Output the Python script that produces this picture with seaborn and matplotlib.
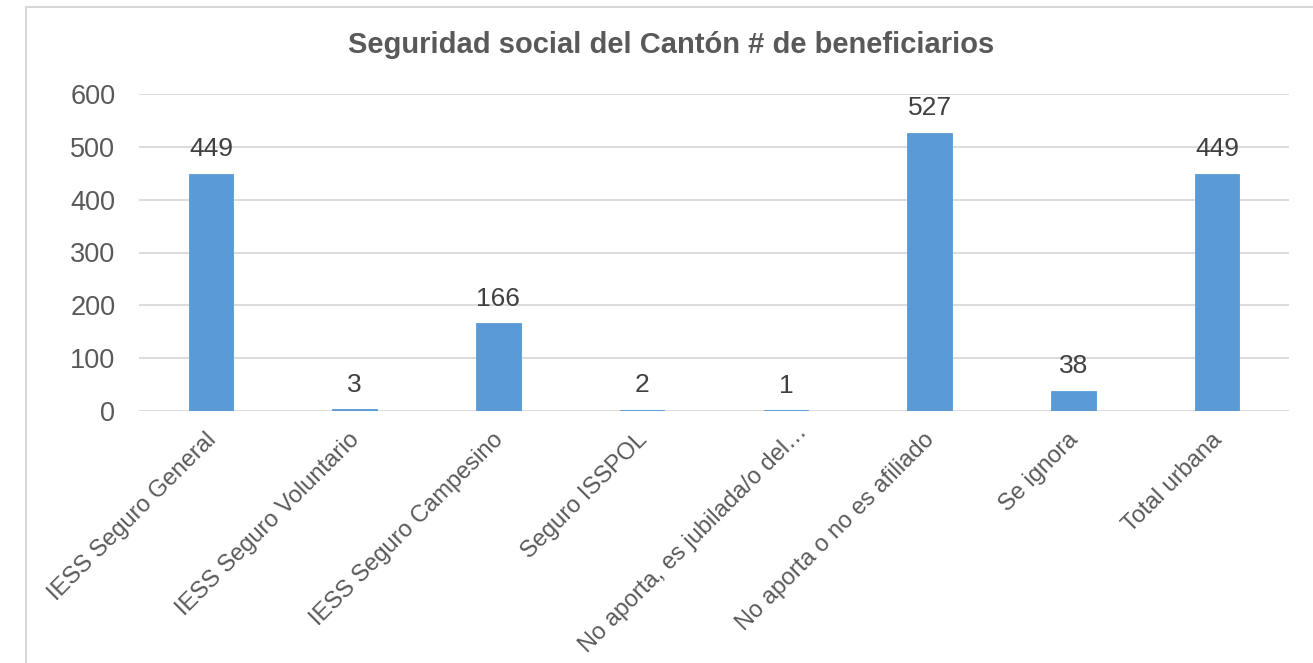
import matplotlib
matplotlib.use("Agg")
import matplotlib.pyplot as plt
from matplotlib.lines import Line2D
from matplotlib.transforms import ScaledTranslation
import seaborn as sns
import pandas as pd

categorias = [
    "IESS Seguro General",
    "IESS Seguro Voluntario",
    "IESS Seguro Campesino",
    "Seguro ISSPOL",
    "No aporta, es jubilada/o del…",
    "No aporta o no es afiliado",
    "Se ignora",
    "Total urbana",
]
beneficiarios = [449, 3, 166, 2, 1, 527, 38, 449]
titulo = "Seguridad social del Cantón # de beneficiarios"

def main():
    sns.set_theme(style="white")
    plt.rcParams["font.family"] = ["Liberation Sans", "DejaVu Sans"]

    df = pd.DataFrame({"categoria": categorias, "valor": beneficiarios})

    fig = plt.figure(figsize=(13.13, 6.63), dpi=100)
    ax = fig.add_axes([139 / 1313, 1 - 411 / 663, 1150 / 1313, 317 / 663])

    sns.barplot(data=df, x="categoria", y="valor", color="#5B9BD5",
                saturation=1, width=0.31, edgecolor="#5B9BD5", linewidth=0.6,
                ax=ax)

    ax.set_ylim(0, 600)
    ax.set_yticks(range(0, 601, 100))
    ax.yaxis.grid(True, color="#D9D9D9", linewidth=1.3)
    ax.set_axisbelow(True)
    for s in ax.spines.values():
        s.set_visible(False)
    ax.set_xlabel("")
    ax.set_ylabel("")
    ax.tick_params(axis="y", labelsize=19.5, colors="#595959", length=0, pad=17)
    ax.tick_params(axis="x", labelsize=17, colors="#595959", length=0, pad=13)
    plt.setp(ax.get_xticklabels(), rotation=45, ha="right", va="top",
             rotation_mode="anchor")
    for i, lbl in enumerate(ax.get_xticklabels()):
        # la etiqueta truncada queda algo desplazada en el original
        dx, dy = (0.10, 0.08) if i == 4 else (-0.06, 0)
        lbl.set_transform(lbl.get_transform() + ScaledTranslation(dx, dy, fig.dpi_scale_trans))

    # etiquetas de datos
    for i, v in enumerate(beneficiarios):
        ax.annotate(str(v), (i, v), xytext=(0, 9), textcoords="offset points",
                    ha="center", va="bottom", fontsize=19, color="#404040")

    fig.text(671 / 1313, 1 - 45 / 663, titulo,
             ha="center", va="center", fontsize=21, fontweight="bold",
             color="#595959")

    # borde del area del grafico
    fig.add_artist(Line2D([26 / 1313, 26 / 1313], [0, 1 - 7 / 663],
                          color="#D9D9D9", linewidth=1.5))
    fig.add_artist(Line2D([26 / 1313, 1], [1 - 7 / 663, 1 - 7 / 663],
                          color="#D9D9D9", linewidth=1.5))

    fig.savefig("out.png", dpi=100)
    plt.close(fig)

if __name__ == "__main__":
    main()
